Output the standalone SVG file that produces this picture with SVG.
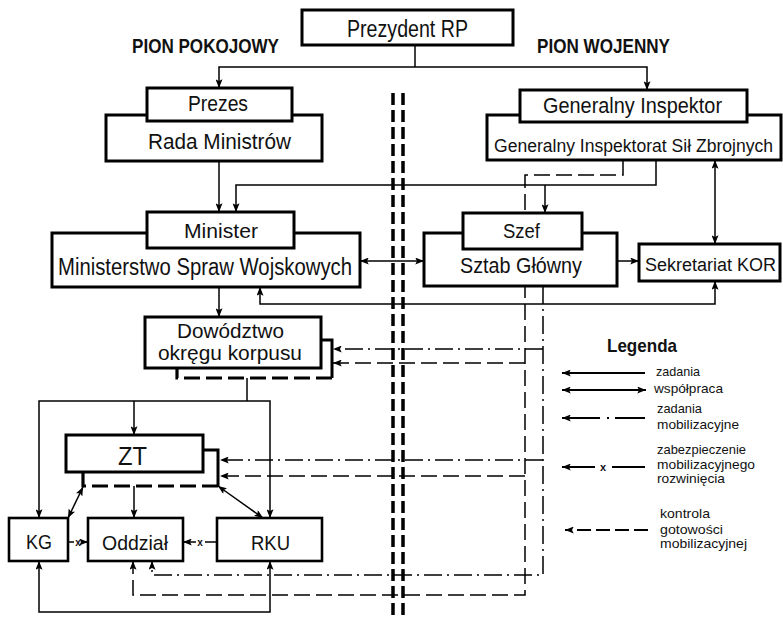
<svg xmlns="http://www.w3.org/2000/svg" width="783" height="618" viewBox="0 0 783 618">
<defs>
<marker id="ah" viewBox="0 0 10 8" refX="10" refY="4" markerWidth="9" markerHeight="7" markerUnits="userSpaceOnUse" orient="auto-start-reverse">
<path d="M0,0 L10,4 L0,8 L2,4 z" fill="#000"/>
</marker>
<style>
.t{font-family:"Liberation Sans",Arial,sans-serif;fill:#111;}
.b{font-weight:bold;}
.box{fill:#fff;stroke:#000;stroke-width:3;}
.sbox{fill:#fff;stroke:#000;stroke-width:2.6;}
.c{fill:none;stroke:#000;stroke-width:1.5;}
.dd{stroke-dasharray:18 5 2 5;}
.ds{stroke-dasharray:16 6;}
.sh{fill:none;stroke:#000;stroke-width:3;}
.shd{fill:none;stroke:#000;stroke-width:3.2;stroke-dasharray:16 6;}
.div{fill:none;stroke:#000;stroke-width:3.5;stroke-dasharray:12 5;}
.a2{marker-start:url(#ah);marker-end:url(#ah);}
.a1{marker-end:url(#ah);}
</style>
</defs>
<rect width="783" height="618" fill="#fff"/>

<g id="divider">
<path class="div" d="M393,93 V618"/>
<path class="div" d="M403,93 V618"/>
</g>

<g id="connectors">
<path class="c" d="M415,45 V67"/>
<path class="c a2" d="M219,88 V67 H647 V90"/>
<path class="c a1" d="M219,161 V212"/>
<path class="c a1" d="M656,160 V185 H236 V212"/>
<path class="c a1" d="M545,185 V213"/>
<path class="c a2" d="M360,261 H424"/>
<path class="c a1" d="M617,261 H639"/>
<path class="c a2" d="M715,160 V244"/>
<path class="c a2" d="M260,287 V304 H715 V281"/>
<path class="c a1" d="M219,287 V317"/>
<path class="c" d="M247,378 V401"/>
<path class="c a2" d="M39,518 V401 H270 V518"/>
<path class="c a1" d="M134,401 V435"/>
<path class="c a1" d="M134,486 V518"/>
<path class="c a2" d="M83,487 L68,518"/>
<path class="c a2" d="M218,486 L263,518"/>
<path class="c a2" d="M39,561 V612 H270 V561"/>
<path class="c dd a1" d="M543,286 V575 H152 V561"/>
<path class="c dd a1" d="M543,349 H333"/>
<path class="c dd a1" d="M543,460 H220"/>
<path class="c ds a1" d="M623,160 V175 H525 V595 H133 V561"/>
<path class="c ds a1" d="M525,363 H333"/>
<path class="c ds a1" d="M525,476 H220"/>
<path class="c" d="M68,542 H74"/>
<path class="c a1" d="M82,542 H88"/>
<text class="t b" x="78" y="546" font-size="10" text-anchor="middle">x</text>
<path class="c" d="M217,542 H205"/>
<path class="c a1" d="M196,542 H183"/>
<text class="t b" x="200" y="546" font-size="10" text-anchor="middle">x</text>
</g>

<g id="n-prezydent">
<rect class="box" x="302" y="10" width="211" height="35"/>
<text class="t" x="347" y="37" font-size="23" textLength="121" lengthAdjust="spacingAndGlyphs">Prezydent RP</text>
</g>
<g id="titles">
<text class="t b" x="132" y="53" font-size="20" textLength="147" lengthAdjust="spacingAndGlyphs">PION POKOJOWY</text>
<text class="t b" x="537" y="53" font-size="20" textLength="133" lengthAdjust="spacingAndGlyphs">PION WOJENNY</text>
</g>
<g id="n-rada">
<rect class="box" x="106" y="115" width="216" height="46"/>
<rect class="box" x="147" y="88" width="145" height="33"/>
<text class="t" x="188" y="111" font-size="22" textLength="60" lengthAdjust="spacingAndGlyphs">Prezes</text>
<text class="t" x="148" y="149" font-size="22" textLength="143" lengthAdjust="spacingAndGlyphs">Rada Ministrów</text>
</g>
<g id="n-gisz">
<rect class="box" x="487" y="115" width="294" height="45"/>
<rect class="box" x="520" y="90" width="227" height="32"/>
<text class="t" x="543" y="113" font-size="22" textLength="179" lengthAdjust="spacingAndGlyphs">Generalny Inspektor</text>
<text class="t" x="494" y="152" font-size="17.5" textLength="279" lengthAdjust="spacingAndGlyphs">Generalny Inspektorat Sił Zbrojnych</text>
</g>
<g id="n-msw">
<rect class="box" x="52" y="233" width="308" height="54"/>
<rect class="box" x="147" y="212" width="147" height="36"/>
<text class="t" x="184" y="238" font-size="21" textLength="74" lengthAdjust="spacingAndGlyphs">Minister</text>
<text class="t" x="58" y="275" font-size="23" textLength="294" lengthAdjust="spacingAndGlyphs">Ministerstwo Spraw Wojskowych</text>
</g>
<g id="n-sztab">
<rect class="box" x="424" y="233" width="193" height="53"/>
<rect class="box" x="463" y="213" width="119" height="36"/>
<text class="t" x="503" y="238" font-size="21" textLength="37" lengthAdjust="spacingAndGlyphs">Szef</text>
<text class="t" x="460" y="273" font-size="22" textLength="122" lengthAdjust="spacingAndGlyphs">Sztab Główny</text>
</g>
<g id="n-kor">
<rect class="box" x="639" y="244" width="141" height="37"/>
<text class="t" x="645" y="271" font-size="18" textLength="131" lengthAdjust="spacingAndGlyphs">Sekretariat KOR</text>
</g>
<g id="n-dowodztwo">
<path class="sh" d="M321,340 H332 V378"/>
<path class="shd" d="M332,378 H177 V368"/>
<rect class="box" x="145" y="317" width="176" height="51"/>
<text class="t" x="177" y="338" font-size="21" textLength="107" lengthAdjust="spacingAndGlyphs">Dowództwo</text>
<text class="t" x="158" y="360" font-size="21" textLength="144" lengthAdjust="spacingAndGlyphs">okręgu korpusu</text>
</g>
<g id="n-zt">
<path class="sh" d="M203,450 H218 V486"/>
<path class="shd" d="M218,486 H83 V472"/>
<rect class="box" x="66" y="435" width="137" height="37"/>
<text class="t" x="118" y="465" font-size="26" textLength="29" lengthAdjust="spacingAndGlyphs">ZT</text>
</g>
<g id="n-kg">
<rect class="sbox" x="9" y="518" width="59" height="43"/>
<text class="t" x="26" y="549" font-size="21" textLength="26" lengthAdjust="spacingAndGlyphs">KG</text>
</g>
<g id="n-oddzial">
<rect class="sbox" x="88" y="518" width="95" height="43"/>
<text class="t" x="102" y="550" font-size="21" textLength="66" lengthAdjust="spacingAndGlyphs">Oddział</text>
</g>
<g id="n-rku">
<rect class="sbox" x="217" y="518" width="105" height="43"/>
<text class="t" x="251" y="550" font-size="21" textLength="39" lengthAdjust="spacingAndGlyphs">RKU</text>
</g>

<g id="legend">
<text class="t b" x="607" y="352" font-size="19" textLength="70" lengthAdjust="spacingAndGlyphs">Legenda</text>
<path class="c a1" d="M645,373 H562" style="stroke-width:2"/>
<text class="t" x="656" y="376" font-size="13" textLength="44" lengthAdjust="spacingAndGlyphs">zadania</text>
<path class="c a2" d="M646,390 H562" style="stroke-width:2"/>
<text class="t" x="654" y="393" font-size="13" textLength="69" lengthAdjust="spacingAndGlyphs">współpraca</text>
<path class="c a1" d="M645,418 H562" style="stroke-width:2;stroke-dasharray:30 6 2 7 40"/>
<text class="t" x="657" y="413" font-size="13" textLength="45" lengthAdjust="spacingAndGlyphs">zadania</text>
<text class="t" x="657" y="429" font-size="13" textLength="82" lengthAdjust="spacingAndGlyphs">mobilizacyjne</text>
<path class="c a1" d="M645,467 H562" style="stroke-width:2;stroke-dasharray:33 17 40"/>
<text class="t b" x="603" y="471" font-size="11" text-anchor="middle">x</text>
<text class="t" x="657" y="454" font-size="13" textLength="89" lengthAdjust="spacingAndGlyphs">zabezpieczenie</text>
<text class="t" x="657" y="469" font-size="13" textLength="98" lengthAdjust="spacingAndGlyphs">mobilizacyjnego</text>
<text class="t" x="657" y="483" font-size="13" textLength="68" lengthAdjust="spacingAndGlyphs">rozwinięcia</text>
<path class="c a1" d="M648,530 H565" style="stroke-width:2;stroke-dasharray:14 5"/>
<text class="t" x="660" y="518" font-size="13" textLength="50" lengthAdjust="spacingAndGlyphs">kontrola</text>
<text class="t" x="660" y="534" font-size="13" textLength="63" lengthAdjust="spacingAndGlyphs">gotowości</text>
<text class="t" x="660" y="548" font-size="13" textLength="87" lengthAdjust="spacingAndGlyphs">mobilizacyjnej</text>
</g>
</svg>
